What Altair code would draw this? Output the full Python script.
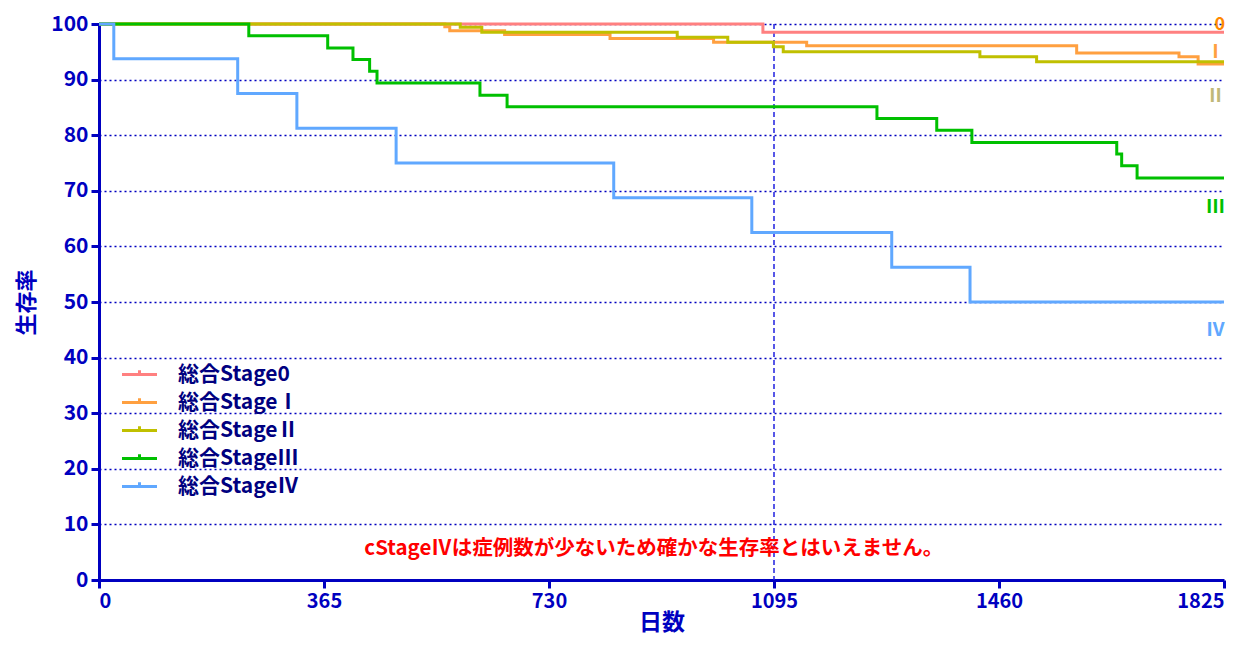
import altair as alt
import pandas as pd

# ---- data ----
series_names = ["総合Stage0", "総合StageⅠ", "総合StageⅡ", "総合StageⅢ", "総合StageⅣ"]
series_colors = ["#FF8080", "#FFA040", "#C0C000", "#00C000", "#60A8FF"]

days0 = [0, 1077, 1825]
surv0 = [100, 98.5, 98.5]

days1 = [0, 561, 569, 658, 829, 997, 1148, 1586, 1752, 1783, 1825]
surv1 = [100, 99.5, 98.8, 98.1, 97.4, 96.7, 96.1, 94.8, 94.1, 92.8, 92.8]

days2 = [0, 586, 621, 938, 1020, 1094, 1110, 1429, 1521, 1825]
surv2 = [100, 99.4, 98.5, 97.6, 96.7, 95.9, 95.0, 94.1, 93.2, 93.2]

days3 = [0, 243, 371, 412, 439, 451, 618, 662, 1262, 1359, 1416, 1651, 1659, 1684, 1825]
surv3 = [100, 97.9, 95.7, 93.6, 91.5, 89.4, 87.2, 85.1, 83.0, 80.9, 78.7, 76.6, 74.5, 72.3, 72.3]

days4 = [0, 24, 225, 321, 482, 835, 1059, 1286, 1413, 1825]
surv4 = [100, 93.75, 87.5, 81.25, 75, 68.75, 62.5, 56.25, 50, 50]

x_ticks = [0, 365, 730, 1095, 1460, 1825]
y_ticks = [0, 10, 20, 30, 40, 50, 60, 70, 80, 90, 100]
ref_day = [1095]

end_labels = ["0", "Ⅰ", "Ⅱ", "Ⅲ", "Ⅳ"]
end_label_y = [99.0, 95.0, 87.1, 67.1, 45.0]
end_label_baseline = ["alphabetic", "middle", "middle", "middle", "middle"]
end_label_size = [18, 19, 19, 19, 19]
end_label_colors = ["#FF8800", "#FFA040", "#C0B878", "#00C000", "#60A8FF"]

note_text = ["cStageⅣは症例数が少ないため確かな生存率とはいえません。"]
note_x = [900]
note_y = [5.6]

AXIS = "#0000C0"
FONT = "Noto Sans CJK JP"

all_days = [days0, days1, days2, days3, days4]
all_surv = [surv0, surv1, surv2, surv3, surv4]
rows = []
for i, (name, ds, ss) in enumerate(zip(series_names, all_days, all_surv)):
    for d, s in zip(ds, ss):
        rows.append({"series": name, "order": i, "day": d, "surv": s})
df = pd.DataFrame(rows)

x_scale = alt.Scale(domain=[0, 1825], nice=False, zero=False)
y_scale = alt.Scale(domain=[0, 100], nice=False)

legend_symbol = "M-2.5,0L2.5,0M0,0L0,-0.6"

lines = alt.Chart(df).mark_line(interpolate="step-after", strokeWidth=3).encode(
    x=alt.X("day:Q", scale=x_scale,
            axis=alt.Axis(values=x_ticks, title="日数", grid=False, format="d",
                          labelFontSize=20)),
    y=alt.Y("surv:Q", scale=y_scale,
            axis=alt.Axis(values=y_ticks, title="生存率", grid=True, format="d")),
    color=alt.Color("series:N", sort=series_names,
                    scale=alt.Scale(domain=series_names, range=series_colors),
                    legend=alt.Legend(
                        title=None, orient="none", legendX=30, legendY=340,
                        symbolType=legend_symbol, symbolSize=196,
                        symbolStrokeWidth=3, labelFont=FONT, labelFontSize=21,
                        labelFontWeight="bold", labelColor="#000080",
                        labelOffset=28, rowPadding=6, padding=0, labelLimit=400)),
    detail="order:O",
)

rule = alt.Chart(pd.DataFrame({"day": ref_day})).mark_rule(
    color="#2020E0", strokeWidth=1.5, strokeDash=[5, 3]
).encode(x=alt.X("day:Q", scale=x_scale), y=alt.value(0), y2=alt.value(556))

layers = [rule, lines]

for lab, ly, bl, fs, lc in zip(end_labels, end_label_y, end_label_baseline,
                               end_label_size, end_label_colors):
    t = alt.Chart(pd.DataFrame({"day": [1825], "y": [ly], "t": [lab]})).mark_text(
        align="right", baseline=bl, dx=1, font=FONT, fontSize=fs,
        fontWeight="bold", color=lc
    ).encode(x=alt.X("day:Q", scale=x_scale), y=alt.Y("y:Q", scale=y_scale), text="t:N")
    layers.append(t)

note = alt.Chart(pd.DataFrame({"day": note_x, "y": note_y, "t": note_text})).mark_text(
    align="center", baseline="middle", font=FONT, fontSize=20.5, fontWeight="bold",
    color="#FF0000"
).encode(x=alt.X("day:Q", scale=x_scale), y=alt.Y("y:Q", scale=y_scale), text="t:N")
layers.append(note)

chart = alt.layer(*layers).properties(
    width=1125, height=556,
    autosize=alt.AutoSizeParams(type="none"),
    padding={"left": 91, "top": 16, "right": 19, "bottom": 56},
).configure_view(stroke=None).configure_axis(
    domainColor=AXIS, domainWidth=3, tickColor=AXIS, tickWidth=3, tickSize=8,
    labelColor=AXIS, labelFont=FONT, labelFontSize=21, labelFontWeight="bold",
    titleColor=AXIS, titleFont=FONT, titleFontSize=23, titleFontWeight="bold",
    gridColor=AXIS, gridDash=[2, 3], gridWidth=1.5, gridOpacity=1,
    labelPadding=3,
).configure_axisX(titlePadding=0).configure_axisY(titlePadding=12, labelPadding=3,
                                                   titleFontSize=22)

chart.save("out.html", embed_options={"renderer": "svg", "actions": False})
